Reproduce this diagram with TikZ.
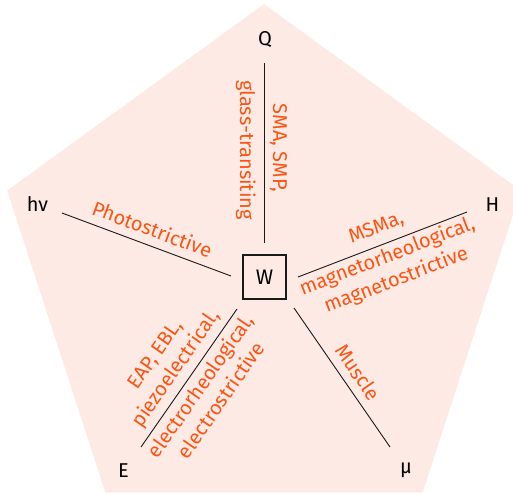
\documentclass[tikz,border=0pt]{standalone}
\usepackage{fontspec}
\setmainfont{Fira Sans}
\usetikzlibrary{calc}
\definecolor{bgpink}{RGB}{253,234,228}
\definecolor{lblorange}{RGB}{250,85,20}
\definecolor{linegray}{RGB}{25,25,25}
\begin{document}
\begin{tikzpicture}[x=1pt,y=1pt,
  lbl/.style={text=lblorange, font=\fontsize{20}{24}\selectfont, inner sep=0pt, anchor=base},
  term/.style={text=black, font=\fontsize{20}{24}\selectfont, inner sep=0pt},
  conn/.style={draw=linegray, line width=0.9pt},
  wbox/.style={draw=linegray, line width=1.1pt, minimum width=43pt, minimum height=44pt, inner sep=0pt, font=\fontsize{21}{24}\selectfont}]
\useasboundingbox (0,0) rectangle (513,-493);
\clip (0,0) rectangle (513,-493);
\coordinate (C) at (264,-274);
\fill[bgpink] ($(C)+(90:270)$) -- ($(C)+(162:270)$) -- ($(C)+(234:270)$) -- ($(C)+(306:270)$) -- ($(C)+(18:270)$) -- cycle;

\node[wbox] (W) at (264.5,-277) {W};
\node[term] (Q) at (265,-40) {Q};
\node[term] (hv) at (37.5,-204.5) {hν};
\node[term] (H) at (492.5,-204.5) {H};
\node[term] (E) at (123.5,-470.5) {E};
\node[term] (mu) at (406,-470) {μ};

\coordinate (q1) at (264,-243); \coordinate (q2) at (264,-63);
\coordinate (h1) at (231,-276); \coordinate (h2) at (62,-213);
\coordinate (m1) at (298,-277); \coordinate (m2) at (467,-212);
\coordinate (e1) at (237,-309); \coordinate (e2) at (141,-447);
\coordinate (u1) at (294,-308); \coordinate (u2) at (390,-447);

\draw[conn] (q1) -- (q2);
\draw[conn] (h1) -- (h2);
\draw[conn] (m1) -- (m2);
\draw[conn] (e1) -- (e2);
\draw[conn] (u1) -- (u2);

\begin{scope}[shift={($(q1)!0.5!(q2)$)}, rotate=-90, transform shape]
  \node[lbl] (lq1) at (-5,9) {SMA, SMP,};
  \node[lbl] (lq2) at (-3,-24) {glass-transiting};
\end{scope}
\begin{scope}[shift={($(h1)!0.5!(h2)$)}, rotate=-20.45, transform shape]
  \node[lbl] (lh) at (0,9) {Photostrictive};
\end{scope}
\begin{scope}[shift={($(m1)!0.5!(m2)$)}, rotate=21.04, transform shape]
  \node[lbl] (lm1) at (0,12) {MSMa,};
  \node[lbl] (lm2) at (0,-19) {magnetorheological,};
  \node[lbl] (lm3) at (0,-44) {magnetostrictive};
\end{scope}
\begin{scope}[shift={($(e1)!0.5!(e2)$)}, rotate=55.2, transform shape]
  \node[lbl] (le1) at (0,35) {EAP, EBL,};
  \node[lbl] (le2) at (0,10) {piezoelectrical,};
  \node[lbl] (le3) at (0,-21) {electrorheological,};
  \node[lbl] (le4) at (0,-46) {electrostrictive};
\end{scope}
\begin{scope}[shift={($(u1)!0.5!(u2)$)}, rotate=-55.4, transform shape]
  \node[lbl] (lu) at (5,9) {Muscle};
\end{scope}
\end{tikzpicture}
\end{document}
